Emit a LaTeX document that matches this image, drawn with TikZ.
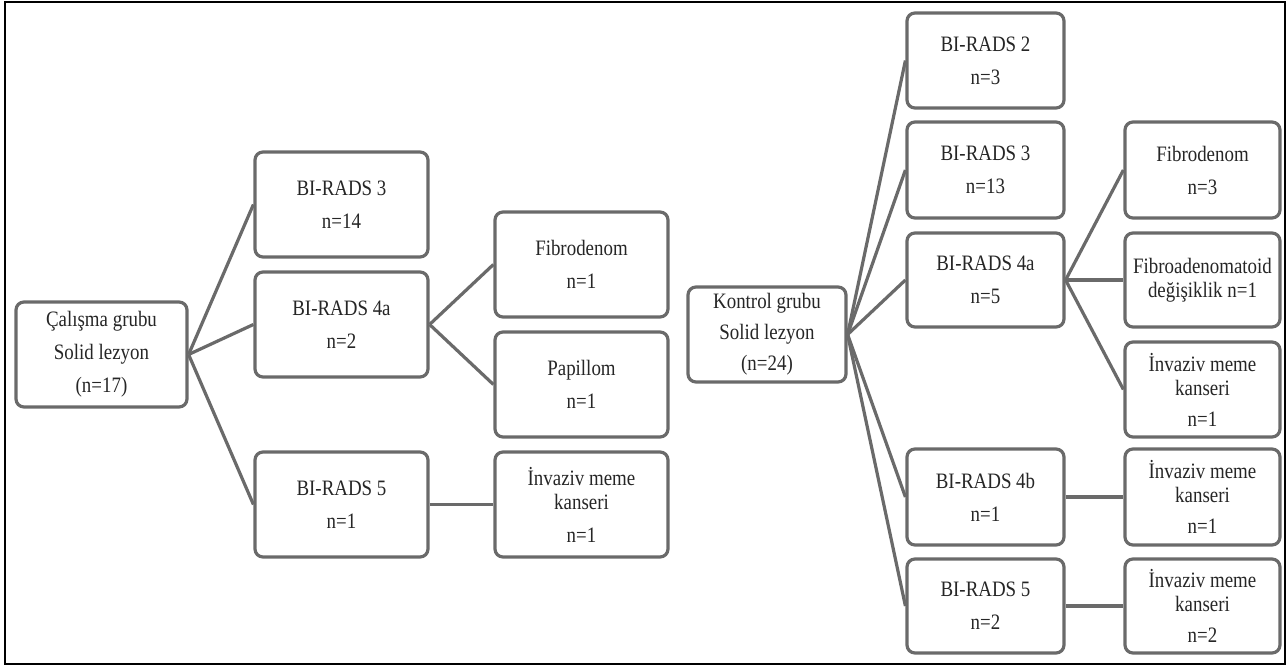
\documentclass[tikz,border=0pt]{standalone}
\usepackage{fontspec}
\setmainfont{Liberation Serif}[FakeStretch=0.86]
\definecolor{boxline}{HTML}{6A6A6A}
\definecolor{txt}{HTML}{262626}
\tikzset{
  bx/.style={draw=boxline, line width=3.2pt, rounded corners=8pt, fill=white,
    align=center, text=txt, inner sep=0pt,
    font=\fontsize{22}{25}\selectfont},
  cn/.style={draw=boxline, line width=3.2pt},
}
\newcommand\bx[6]{\node[bx, minimum width={#4-#2}, minimum height={#5-#3}] (#1) at ({(#2+#4)/2},{(#3+#5)/2}) {#6};}
\begin{document}
\begin{tikzpicture}[x=1pt,y=-1pt]
\useasboundingbox (0,0) rectangle (1288,666);
\fill[white] (0,0) rectangle (1288,666);
\draw[black, line width=1.5pt] (5,2) rectangle (1285,664);
% left tree
\bx{A}{16}{302}{187}{407}{Çalışma grubu\\[8pt]Solid lezyon\\[8pt](n=17)}
\bx{L3}{255}{152}{428}{257}{BI-RADS 3\\[8pt]n=14}
\bx{L4a}{255}{272}{428}{377}{BI-RADS 4a\\[8pt]n=2}
\bx{L5}{255}{452}{428}{557}{BI-RADS 5\\[8pt]n=1}
\bx{LF}{495}{212}{668}{317}{Fibrodenom\\[8pt]n=1}
\bx{LP}{495}{332}{668}{437}{Papillom\\[8pt]n=1}
\bx{LI}{495}{452}{668}{557}{İnvaziv meme\\[-1pt]kanseri\\[8pt]n=1}
% right tree
\bx{K}{688}{287}{846}{382}{Kontrol grubu\\[6pt]Solid lezyon\\[6pt](n=24)}
\bx{R2}{907}{13}{1064}{108}{BI-RADS 2\\[8pt]n=3}
\bx{R3}{907}{122}{1064}{218}{BI-RADS 3\\[8pt]n=13}
\bx{R4a}{907}{233}{1064}{327}{BI-RADS 4a\\[8pt]n=5}
\bx{R4b}{907}{449}{1064}{545}{BI-RADS 4b\\[8pt]n=1}
\bx{R5}{907}{559}{1064}{653}{BI-RADS 5\\[8pt]n=2}
\bx{RF}{1125}{122}{1280}{218}{Fibrodenom\\[8pt]n=3}
\bx{RFA}{1125}{233}{1280}{327}{Fibroadenomatoid\\[-1pt]değişiklik n=1}
\bx{RI1}{1125}{342}{1280}{437}{İnvaziv meme\\[-1pt]kanseri\\[6pt]n=1}
\bx{RI2}{1125}{449}{1280}{545}{İnvaziv meme\\[-1pt]kanseri\\[6pt]n=1}
\bx{RI3}{1125}{559}{1280}{653}{İnvaziv meme\\[-1pt]kanseri\\[6pt]n=2}
% connectors
\draw[cn] (A.east) -- (L3.west);
\draw[cn] (A.east) -- (L4a.west);
\draw[cn] (A.east) -- (L5.west);
\draw[cn] (L4a.east) -- (LF.west);
\draw[cn] (L4a.east) -- (LP.west);
\draw[cn] (L5.east) -- (LI.west);
\draw[cn] (K.east) -- (R2.west);
\draw[cn] (K.east) -- (R3.west);
\draw[cn] (K.east) -- (R4a.west);
\draw[cn] (K.east) -- (R4b.west);
\draw[cn] (K.east) -- (R5.west);
\draw[cn] (R4a.east) -- (RF.west);
\draw[cn] (R4a.east) -- (RFA.west);
\draw[cn] (R4a.east) -- (RI1.west);
\draw[cn] (R4b.east) -- (RI2.west);
\draw[cn] (R5.east) -- (RI3.west);
\end{tikzpicture}
\end{document}
